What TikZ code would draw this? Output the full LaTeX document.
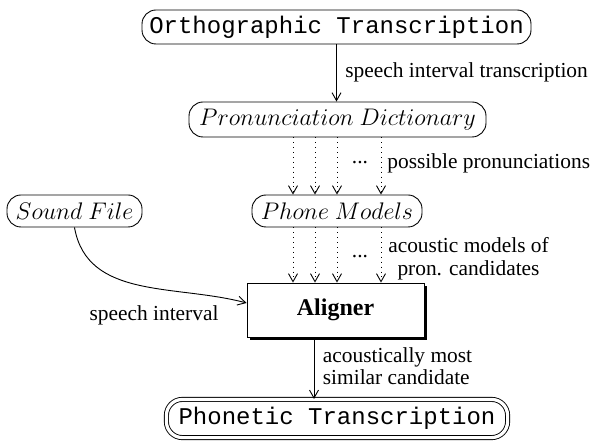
\documentclass[tikz,border=0pt,12pt]{standalone}
\usepackage{fontspec}
\setmainfont{Liberation Serif}
\setmonofont{Liberation Mono}
\usetikzlibrary{arrows.meta,shadows}
\begin{document}
\begin{tikzpicture}[x=0.5pt,y=-0.5pt,
  rbox/.style={draw, rounded corners=7pt, inner sep=0pt, line width=0.45pt, font=\fontsize{12}{14}\selectfont},
  lbl/.style={inner sep=0pt, font=\fontsize{10.7}{11.3}\selectfont},
  arr/.style={line width=0.45pt, -{Straight Barb[length=4pt,width=4.5pt]}},
  darr/.style={arr, dotted}]
\useasboundingbox (0,0) rectangle (592,442);

\node[rbox, minimum width=194.5pt, minimum height=17pt] (ot) at (336.5,27) {\ttfamily Orthographic Transcription};
\node[rbox, minimum width=148.5pt, minimum height=17.5pt] (pd) at (337.5,119.5) {$Pronunciation\ Dictionary$};
\node[rbox, minimum width=67.5pt, minimum height=16pt] (sf) at (74.5,211) {$Sound\ File$};
\node[rbox, minimum width=85pt, minimum height=16pt] (pm) at (337,211) {$Phone\ Models$};
\node[draw, line width=0.45pt, fill=white, minimum width=88.5pt, minimum height=27pt, inner sep=0pt,
  drop shadow={shadow xshift=1.5pt, shadow yshift=-1.5pt, fill=black, opacity=1},
  font=\fontsize{12}{14}\selectfont\bfseries] (al) at (335.5,310) {Aligner};
\node[rbox, double, double distance=1.6pt, rounded corners=8pt, minimum width=170.6pt, minimum height=19.1pt] (pt) at (337,418.5) {\ttfamily Phonetic Transcription};

\coordinate (c1) at (293,0);
\coordinate (c2) at (315,0);
\coordinate (c3) at (337,0);
\coordinate (c4) at (381,0);
\coordinate (c5) at (314,0);

\draw[arr] (ot.south) -- (ot.south |- pd.north);
\node[lbl, anchor=west] (l1) at (345,72) {speech interval transcription};

\foreach \c in {c1,c2,c3,c4} {
  \draw[darr] (pd.south -| \c) -- (pm.north -| \c);
  \draw[darr] (pm.south -| \c) -- (al.north -| \c);
}
\node[lbl] (d1) at (360,163) {...};
\node[lbl, anchor=west] (l2) at (387,163) {possible pronunciations};
\node[lbl] (d2) at (360,257) {...};
\node[lbl, align=center] (l3) at (468.5,258.5) {acoustic models of\\pron. candidates};

\draw[arr] (sf.south) to[out=-80, in=165] ([yshift=3.5pt]al.west);
\node[lbl] (l4) at (154,315) {speech interval};

\draw[arr] (al.south -| c5) -- (pt.north -| c5);
\node[lbl, align=left] (l5) at (397.5,366) {acoustically most\\similar candidate};
\end{tikzpicture}
\end{document}
